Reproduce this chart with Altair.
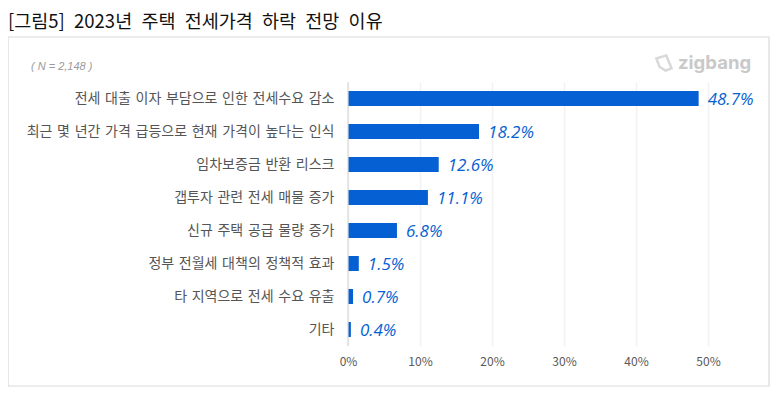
import altair as alt
import pandas as pd

categories = ["전세 대출 이자 부담으로 인한 전세수요 감소", "최근 몇 년간 가격 급등으로 현재 가격이 높다는 인식",
              "임차보증금 반환 리스크", "갭투자 관련 전세 매물 증가", "신규 주택 공급 물량 증가",
              "정부 전월세 대책의 정책적 효과", "타 지역으로 전세 수요 유출", "기타"]
values = [48.7, 18.2, 12.6, 11.1, 6.8, 1.5, 0.7, 0.4]
labels = ["48.7%", "18.2%", "12.6%", "11.1%", "6.8%", "1.5%", "0.7%", "0.4%"]
ticks = [0, 10, 20, 30, 40, 50]
title_text = "[그림5] 2023년 주택 전세가격 하락 전망 이유"
note_text = "( N = 2,148 )"
logo_text = "zigbang"
KR = "Noto Sans CJK KR"

df = pd.DataFrame({"cat": categories, "v": values, "lab": labels})
y_scale = alt.Scale(paddingInner=0.545, paddingOuter=0.2725)
x_scale = alt.Scale(domain=[0, 55], nice=False)
y = alt.Y("cat:N", sort=categories, title=None, scale=y_scale,
          axis=alt.Axis(labelFont=KR, labelFontSize=14, labelColor="#555555", labelPadding=14,
                        labelExpr="replace(datum.label, / /g, '\u2004')",
                        ticks=False, domain=False, grid=False, labelLimit=340))
x = alt.X("v:Q", title=None, scale=x_scale,
          axis=alt.Axis(values=ticks, labelExpr="datum.value + '%'", labelFont=KR, labelFontSize=12,
                        labelColor="#595959", labelPadding=10, labelFlush=False, ticks=False, domain=False,
                        grid=True, gridColor="#f2f2f2", gridWidth=1.5))

one = pd.DataFrame({"a": [0]})
frame = alt.Chart(one).mark_rect(fill="transparent", stroke="#d9d9d9", strokeWidth=1.2).encode(
    x=alt.value(-340), x2=alt.value(421), y=alt.value(-45), y2=alt.value(304))
bars = alt.Chart(df).mark_bar(color="#0561d3", size=15).encode(x=x, y=y)
zero = alt.Chart(one).mark_rule(color="#d9d9d9", strokeWidth=1.2).encode(
    x=alt.value(0), y=alt.value(0), y2=alt.value(264))
text = alt.Chart(df).mark_text(align="left", baseline="middle", dx=9, dy=1, fontStyle="italic", font="Open Sans",
                               fontSize=17, fontWeight=500, color="#0561d3").encode(
    x=x, y=y, text="lab:N")
note = alt.Chart(pd.DataFrame({"t": [note_text]})).mark_text(
    align="left", baseline="middle", fontStyle="italic", font="Liberation Sans", fontSize=11, color="#9a9a9a"
).encode(x=alt.value(-317), y=alt.value(-15), text="t:N")
logo = alt.Chart(pd.DataFrame({"t": [logo_text]})).mark_text(
    align="left", baseline="middle", font="Inter", fontWeight="bold", fontSize=18.5, color="#c9c9c9"
).encode(x=alt.value(330), y=alt.value(-19), text="t:N")
icon = alt.Chart(one).mark_point(
    shape="M-1,-0.6 L0.3,-1 L1,0.7 L0.2,1 L-0.6,0.5 Z", filled=False, stroke="#c9c9c9", strokeWidth=2.5, size=230
).encode(x=alt.value(316), y=alt.value(-19))

chart = alt.layer(bars, text, frame, zero, note, icon, logo).properties(
    width=396, height=264,
    title=alt.TitleParams(title_text.replace(" ", "\u2002"), anchor="start", frame="group", dx=-340, offset=5,
                          font=KR, fontSize=18.5, fontWeight="normal", color="#111111", limit=760),
    autosize=alt.AutoSizeParams(type="none"),
    padding={"left": 340, "top": 74, "right": 26, "bottom": 41},
).configure_view(stroke=None)

chart.save("out.html", embed_options={"renderer": "svg", "actions": False})
